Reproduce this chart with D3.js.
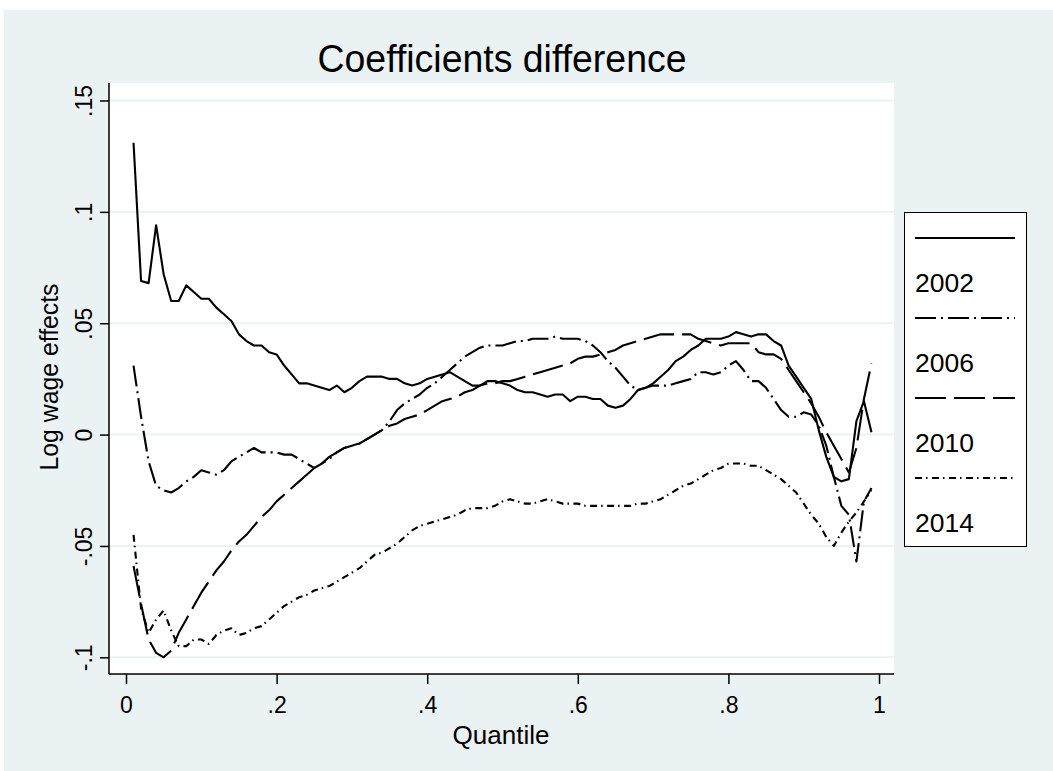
<!DOCTYPE html>
<html>
<head>
<meta charset="utf-8">
<script src="https://cdn.jsdelivr.net/npm/d3@7"></script>
<style>
  html, body { margin: 0; padding: 0; background: #ffffff; }
  svg { display: block; }
  text { font-family: "Liberation Sans", Arial, Helvetica, sans-serif; fill: #000; }
</style>
</head>
<body>
<svg id="chart" width="1053" height="771"></svg>
<script>
// ---------------- data ----------------
const quantiles = d3.range(1, 100).map(i => i / 100);

const series2002 = [
  0.131, 0.069, 0.068, 0.094, 0.072, 0.060, 0.060, 0.067, 0.064, 0.061,
  0.061, 0.057, 0.054, 0.051, 0.045, 0.042, 0.040, 0.040, 0.037, 0.036,
  0.031, 0.027, 0.023, 0.023, 0.022, 0.021, 0.020, 0.022, 0.019, 0.021,
  0.024, 0.026, 0.026, 0.026, 0.025, 0.025, 0.023, 0.022, 0.023, 0.025,
  0.026, 0.027, 0.028, 0.026, 0.024, 0.022, 0.022, 0.024, 0.024, 0.023,
  0.022, 0.020, 0.019, 0.019, 0.018, 0.017, 0.018, 0.018, 0.015, 0.017,
  0.017, 0.016, 0.016, 0.013, 0.012, 0.013, 0.016, 0.020, 0.021, 0.023,
  0.026, 0.029, 0.033, 0.035, 0.038, 0.040, 0.043, 0.043, 0.043, 0.044,
  0.046, 0.045, 0.044, 0.045, 0.045, 0.042, 0.040, 0.031, 0.026, 0.021,
  0.016, 0.002, -0.010, -0.019, -0.021, -0.020, 0.006, 0.015, 0.001
];

const series2006 = [
  0.031, 0.008, -0.012, -0.023, -0.025, -0.026, -0.024, -0.021, -0.019, -0.016,
  -0.017, -0.018, -0.016, -0.012, -0.010, -0.008, -0.006, -0.008, -0.008, -0.008,
  -0.009, -0.009, -0.011, -0.013, -0.015, -0.013, -0.011, -0.008, -0.006, -0.005,
  -0.004, -0.002, 0.000, 0.002, 0.006, 0.011, 0.014, 0.016, 0.018, 0.021,
  0.023, 0.026, 0.029, 0.032, 0.035, 0.037, 0.039, 0.040, 0.040, 0.040,
  0.041, 0.042, 0.042, 0.043, 0.043, 0.043, 0.044, 0.043, 0.043, 0.043,
  0.042, 0.040, 0.037, 0.033, 0.030, 0.026, 0.022, 0.020, 0.021, 0.022,
  0.022, 0.022, 0.023, 0.024, 0.025, 0.028, 0.028, 0.027, 0.028, 0.031,
  0.033, 0.029, 0.024, 0.024, 0.021, 0.016, 0.011, 0.008, 0.008, 0.010,
  0.009, 0.004, -0.005, -0.019, -0.032, -0.036, -0.057, -0.030, -0.024
];

const series2010 = [
  -0.059, -0.076, -0.092, -0.098, -0.100, -0.097, -0.089, -0.083, -0.077, -0.071,
  -0.066, -0.061, -0.057, -0.052, -0.048, -0.045, -0.041, -0.037, -0.034, -0.030,
  -0.027, -0.024, -0.021, -0.018, -0.015, -0.013, -0.010, -0.008, -0.006, -0.005,
  -0.004, -0.002, 0.000, 0.002, 0.004, 0.005, 0.007, 0.008, 0.009, 0.011,
  0.013, 0.015, 0.016, 0.017, 0.019, 0.020, 0.022, 0.023, 0.023, 0.024,
  0.024, 0.025, 0.026, 0.027, 0.028, 0.029, 0.030, 0.031, 0.032, 0.034,
  0.035, 0.035, 0.036, 0.037, 0.038, 0.040, 0.041, 0.042, 0.043, 0.044,
  0.045, 0.045, 0.045, 0.045, 0.045, 0.043, 0.042, 0.041, 0.040, 0.041,
  0.041, 0.041, 0.041, 0.037, 0.036, 0.036, 0.034, 0.029, 0.024, 0.019,
  0.014, 0.008, 0.001, -0.005, -0.011, -0.017, -0.006, 0.016, 0.032
];

const series2014 = [
  -0.045, -0.078, -0.089, -0.083, -0.079, -0.088, -0.095, -0.095, -0.092, -0.092,
  -0.094, -0.090, -0.088, -0.087, -0.090, -0.089, -0.087, -0.086, -0.083, -0.080,
  -0.077, -0.075, -0.073, -0.072, -0.070, -0.069, -0.068, -0.066, -0.064, -0.062,
  -0.060, -0.057, -0.054, -0.053, -0.051, -0.049, -0.046, -0.043, -0.041, -0.040,
  -0.039, -0.038, -0.037, -0.036, -0.034, -0.033, -0.033, -0.033, -0.032, -0.030,
  -0.029, -0.030, -0.031, -0.031, -0.030, -0.029, -0.030, -0.031, -0.031, -0.031,
  -0.032, -0.032, -0.032, -0.032, -0.032, -0.032, -0.032, -0.031, -0.031, -0.030,
  -0.029, -0.027, -0.025, -0.023, -0.022, -0.020, -0.018, -0.016, -0.015, -0.013,
  -0.013, -0.013, -0.014, -0.014, -0.016, -0.018, -0.020, -0.023, -0.026, -0.031,
  -0.036, -0.040, -0.046, -0.050, -0.044, -0.039, -0.035, -0.030, -0.025
];

const seriesNames = ["2002", "2006", "2010", "2014"];
const xTicks = [0, 0.2, 0.4, 0.6, 0.8, 1];
const xTickLabels = ["0", ".2", ".4", ".6", ".8", "1"];
const yTicks = [-0.1, -0.05, 0, 0.05, 0.1, 0.15];
const yTickLabels = ["-.1", "-.05", "0", ".05", ".1", ".15"];
const titleText = "Coefficients difference";
const xTitle = "Quantile";
const yTitle = "Log wage effects";

// ---------------- styles ----------------
const dashes = [null, "21,5,2,5", "31,8", "7,4,1.5,4.5"];
const bgColor = "#eaf2f3";

// ---------------- drawing ----------------
const svg = d3.select("#chart");

svg.append("rect").attr("x", 4).attr("y", 10).attr("width", 1049).attr("height", 761)
  .attr("fill", bgColor);

const plot = { left: 109, right: 894, top: 83, bottom: 674 };
svg.append("rect").attr("x", plot.left).attr("y", plot.top)
  .attr("width", plot.right - plot.left).attr("height", plot.bottom - plot.top)
  .attr("fill", "#ffffff");

const x = d3.scaleLinear().domain([0, 1]).range([126, 879]);
const y = d3.scaleLinear().domain([-0.1, 0.15]).range([657.3, 100.5]);

// grid
svg.append("g").selectAll("line").data(yTicks).join("line")
  .attr("x1", plot.left).attr("x2", plot.right)
  .attr("y1", d => y(d)).attr("y2", d => y(d))
  .attr("stroke", bgColor).attr("stroke-width", 2);

// series
const seriesData = [series2002, series2006, series2010, series2014];
const line = d3.line().x((d, i) => x(quantiles[i])).y(d => y(d));
const g = svg.append("g");
seriesData.forEach((s, k) => {
  const p = g.append("path").datum(s).attr("d", line)
    .attr("fill", "none").attr("stroke", "#000").attr("stroke-width", 2.1)
    .attr("stroke-linejoin", "round");
  if (dashes[k]) p.attr("stroke-dasharray", dashes[k]);
});

// axes
const xAxis = d3.axisBottom(x).tickValues(xTicks)
  .tickFormat((d, i) => xTickLabels[i]).tickSize(10).tickSizeOuter(0).tickPadding(6);
const xg = svg.append("g").attr("transform", `translate(0,${plot.bottom})`).call(xAxis);
xg.select(".domain").attr("d", `M${plot.left},0H${plot.right}`).attr("stroke-width", 1.5);
xg.selectAll(".tick line").attr("stroke-width", 1.5);
xg.selectAll(".tick text").attr("font-size", 23).attr("dy", null).attr("y", 39)
  .style("font-family", '"Liberation Sans", Arial, sans-serif');

const yAxis = d3.axisLeft(y).tickValues(yTicks)
  .tickFormat((d, i) => yTickLabels[i]).tickSize(9).tickSizeOuter(0);
const yg = svg.append("g").attr("transform", `translate(${plot.left},0)`).call(yAxis);
yg.select(".domain").attr("d", `M0,${plot.top}V${plot.bottom}`).attr("stroke-width", 1.5);
yg.selectAll(".tick line").attr("stroke-width", 1.5);
yg.selectAll(".tick text").attr("font-size", 23)
  .attr("x", null).attr("dy", null)
  .attr("text-anchor", "middle")
  .attr("transform", "translate(-17,0) rotate(-90)")
  .style("font-family", '"Liberation Sans", Arial, sans-serif');

// titles
svg.append("text").attr("x", 502).attr("y", 72).attr("text-anchor", "middle")
  .attr("font-size", 39).attr("textLength", 369).attr("lengthAdjust", "spacingAndGlyphs")
  .text(titleText);
svg.append("text").attr("x", 501).attr("y", 744).attr("text-anchor", "middle")
  .attr("font-size", 25).attr("textLength", 97).attr("lengthAdjust", "spacingAndGlyphs")
  .text(xTitle);
svg.append("text").attr("transform", "translate(58,377) rotate(-90)")
  .attr("text-anchor", "middle").attr("font-size", 25)
  .attr("textLength", 187).attr("lengthAdjust", "spacingAndGlyphs").text(yTitle);

// legend
const lg = svg.append("g");
lg.append("rect").attr("x", 904.5).attr("y", 212.5).attr("width", 122).attr("height", 334)
  .attr("fill", "#fff").attr("stroke", "#000").attr("stroke-width", 1);
seriesNames.forEach((name, k) => {
  const ky = 238 + k * 80;
  const l = lg.append("line").attr("x1", 915).attr("x2", 1015).attr("y1", ky).attr("y2", ky)
    .attr("stroke", "#000").attr("stroke-width", 2.1);
  if (dashes[k]) l.attr("stroke-dasharray", dashes[k]);
  lg.append("text").attr("x", 915).attr("y", 292 + k * 80).attr("font-size", 25)
    .attr("textLength", 59).attr("lengthAdjust", "spacingAndGlyphs").text(name);
});
</script>
</body>
</html>
